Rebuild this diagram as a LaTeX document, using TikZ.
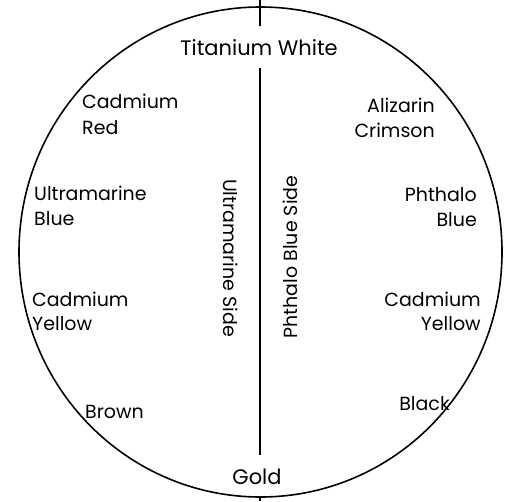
\documentclass[tikz,border=0pt]{standalone}
\usepackage{fontspec}
\setmainfont{Poppins}
\usetikzlibrary{shapes.geometric}
\begin{document}
\begin{tikzpicture}[x=1pt,y=-1pt,
  lbl/.style={inner sep=0pt, font=\fontsize{19}{23}\selectfont},
  gap/.style={inner sep=0pt, inner ysep=13pt, font=\fontsize{21}{25}\selectfont},
  ln/.style={line width=1.6pt}]
\useasboundingbox (0,0) rectangle (511,501);
\node[lbl, draw, ln, ellipse, minimum width=483pt, minimum height=490pt] (c) at (260.5,252) {};
% end points of the axis
\coordinate (ltop) at (260,0);
\coordinate (lbot) at (260,501);
\node[gap, anchor=base] (tw) at (259,55) {Titanium White};
\node[gap, anchor=base] (gold) at (257,484) {Gold};
\draw[ln] (ltop) -- (ltop |- tw.north);
\draw[ln] (ltop |- tw.south) -- (ltop |- gold.north);
\draw[ln] (lbot |- gold.south) -- (lbot);
% left labels
\node[lbl, anchor=base west] (cr1) at (82,108) {Cadmium};
\node[lbl, anchor=base west] (cr2) at (82,134) {Red};
\node[lbl, anchor=base west] (ub1) at (34,200) {Ultramarine};
\node[lbl, anchor=base west] (ub2) at (34,225) {Blue};
\node[lbl, anchor=base west] (cy1) at (32,306) {Cadmium};
\node[lbl, anchor=base west] (cy2) at (32,330) {Yellow};
\node[lbl, anchor=base west] (br) at (85,418) {Brown};
% right labels
\node[lbl, anchor=base east] (ac1) at (435,112) {Alizarin};
\node[lbl, anchor=base east] (ac2) at (435,137) {Crimson};
\node[lbl, anchor=base east] (pb1) at (477,201) {Phthalo};
\node[lbl, anchor=base east] (pb2) at (477,226) {Blue};
\node[lbl, anchor=base east] (ry1) at (481,306) {Cadmium};
\node[lbl, anchor=base east] (ry2) at (481,330) {Yellow};
\node[lbl, anchor=base east] (bk) at (450,410) {Black};
% side labels
\node[lbl, rotate=-90] (us) at (231,258) {Ultramarine Side};
\node[lbl, rotate=90] (ps) at (290,257) {Phthalo Blue Side};
\end{tikzpicture}
\end{document}
